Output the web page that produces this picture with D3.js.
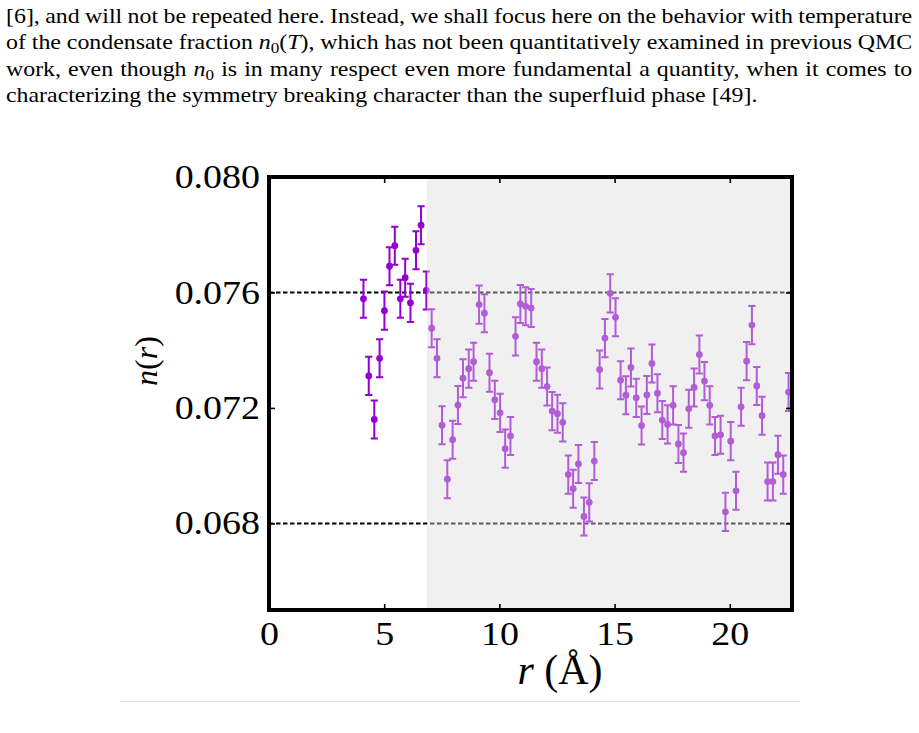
<!DOCTYPE html>
<html>
<head>
<meta charset="utf-8">
<script src="https://cdn.jsdelivr.net/npm/d3@7"></script>
<style>
  body { margin: 0; background: #fff; }
  svg { display: block; }
</style>
</head>
<body>
<div id="container"></div>
<script>
/* CONSTANTS AND GLOBALS */
const width = 919;
const height = 733;

// plot box in page pixels
const boxL = 269, boxR = 792, boxT = 177, boxB = 610;

/* DATA */
const r = [4.10, 4.33, 4.57, 4.80, 5.01, 5.23, 5.46, 5.70, 5.91, 6.14, 6.38, 6.60, 6.83,
  7.06, 7.29, 7.51, 7.74, 7.97, 8.20, 8.42, 8.67, 8.88, 9.12, 9.35, 9.57, 9.80,
  10.03, 10.25, 10.48, 10.70, 10.91, 11.14, 11.38, 11.61, 11.84, 12.07,
  12.29, 12.52, 12.75, 12.99, 13.20, 13.43, 13.67, 13.90, 14.12, 14.35,
  14.58, 14.81, 15.04, 15.26, 15.49, 15.71, 15.94, 16.17, 16.40, 16.62, 16.86,
  17.07, 17.30, 17.54, 17.77, 17.99, 18.22, 18.45, 18.68, 18.90, 19.13,
  19.36, 19.60, 19.81, 20.04, 20.27, 20.49, 20.73, 20.96, 21.17, 21.40,
  21.64, 21.87, 22.09, 22.32, 22.55];

const nr = [0.07578, 0.07311, 0.07160, 0.07372, 0.07537, 0.07691, 0.07762, 0.07578, 0.07651, 0.07564, 0.07746, 0.07833, 0.07607,
  0.07476, 0.07372, 0.07140, 0.06953, 0.07090, 0.07210, 0.07303, 0.07336, 0.07360, 0.07558, 0.07528, 0.07322, 0.07228,
  0.07183, 0.07059, 0.07103, 0.07448, 0.07560, 0.07552, 0.07546, 0.07360, 0.07336, 0.07274,
  0.07189, 0.07180, 0.07150, 0.06969, 0.06920, 0.07006, 0.06824, 0.06873, 0.07016, 0.07333,
  0.07442, 0.07597, 0.07514, 0.07296, 0.07244, 0.07340, 0.07235, 0.07139, 0.07245, 0.07354, 0.07251,
  0.07158, 0.07143, 0.07209, 0.07075, 0.07045, 0.07197, 0.07271, 0.07385, 0.07293, 0.07209,
  0.07103, 0.07107, 0.06840, 0.07085, 0.06913, 0.07204, 0.07362, 0.07487, 0.07276, 0.07173,
  0.06945, 0.06945, 0.07038, 0.06969, 0.07255];

const errBar = 0.00066;
const shadeFrom = 6.85;
const refLines = [0.076, 0.068];
const xTicks = [0, 5, 10, 15, 20];
const yTicks = [0.068, 0.072, 0.076, 0.080];

// paragraph above the figure, [text, style] pieces per line
const lines = [
  [["[6], and will not be repeated here. Instead, we shall focus here on the behavior with temperature", ""]],
  [["of the condensate fraction ", ""], ["n", "i"], ["0", "sub"], ["(", "up"], ["T", "i"], ["), which has not been quantitatively examined in previous QMC", ""]],
  [["work, even though ", ""], ["n", "i"], ["0", "sub"], [" is in many respect even more fundamental a quantity, when it comes to", "up"]],
  [["characterizing the symmetry breaking character than the superfluid phase [49].", ""]]
];

var data = r.map((d, i) => ({ r: d, n: nr[i] }));

/* CREATE SVG ELEMENT */
var svg = d3.select("#container")
  .append("svg")
  .attr("width", width)
  .attr("height", height);

/* PARAGRAPH */
const textX = 6, textRight = 913, lastRight = 758;
const baselines = [23, 49, 76, 102];
var rows = lines.map((segs, i) => {
  var t = svg.append("text")
    .attr("font-family", "Liberation Serif")
    .attr("font-size", 21)
    .attr("fill", "#000");
  segs.forEach(s => {
    var ts = t.append("tspan").text(s[0]);
    if (s[1] == "i") ts.attr("font-style", "italic");
    if (s[1] == "sub") ts.attr("font-size", 15).attr("dy", 4);
    if (s[1] == "up") ts.attr("dy", -4);
  });
  return t;
});
// glyph stretch taken from the last (ragged) line, the rest justified by word spacing
var lastW = rows[3].node().getComputedTextLength();
var sx = (lastRight - textX) / lastW;
rows.forEach((t, i) => {
  var w = t.node().getComputedTextLength();
  var spaces = t.text().split(" ").length - 1;
  if (i < 3) t.attr("word-spacing", ((textRight - textX) / sx - w) / spaces);
  t.attr("transform", "translate(" + textX + "," + baselines[i] + ") scale(" + sx + ",1)");
});

/* SCALES */
var x = d3.scaleLinear().domain([0, 22.7]).range([boxL, boxR]);
var y = d3.scaleLinear().domain([0.065, 0.080]).range([boxB, boxT]);

/* REFERENCE LINES */
svg.selectAll(".ref")
  .data(refLines)
  .join("line")
  .attr("x1", boxL).attr("x2", boxR)
  .attr("y1", d => y(d)).attr("y2", d => y(d))
  .attr("stroke", "#000")
  .attr("stroke-width", 2)
  .attr("stroke-dasharray", "4.5,2.5");

/* ERROR BARS + POINTS */
var col = "#9400d3";
var cap = 3.6;
var g = svg.append("g");
g.selectAll(".eb")
  .data(data)
  .join("path")
  .attr("fill", "none")
  .attr("stroke", col)
  .attr("stroke-width", 2)
  .attr("d", d => {
    var cx = x(d.r), y0 = y(d.n - errBar), y1 = y(d.n + errBar);
    return "M" + (cx - cap) + "," + y1 + "H" + (cx + cap) +
      "M" + cx + "," + y1 + "V" + y0 +
      "M" + (cx - cap) + "," + y0 + "H" + (cx + cap);
  });
g.selectAll("circle")
  .data(data)
  .join("circle")
  .attr("cx", d => x(d.r))
  .attr("cy", d => y(d.n))
  .attr("r", 3.4)
  .attr("fill", col);

/* GREY VEIL OVER THE OUTER REGION */
svg.append("rect")
  .attr("x", x(shadeFrom))
  .attr("y", boxT)
  .attr("width", boxR - x(shadeFrom))
  .attr("height", boxB - boxT)
  .attr("fill", "rgb(219,219,219)")
  .attr("fill-opacity", 0.42);

/* AXES */
function stretch(sel) {
  sel.selectAll("text").each(function() {
    var w = this.getComputedTextLength();
    d3.select(this).attr("textLength", w * 1.15).attr("lengthAdjust", "spacingAndGlyphs");
  });
}

var xb = svg.append("g")
  .attr("transform", "translate(0," + boxB + ")")
  .call(d3.axisBottom(x).tickValues(xTicks).tickSize(-6).tickPadding(12));
var xt = svg.append("g")
  .attr("transform", "translate(0," + boxT + ")")
  .call(d3.axisTop(x).tickValues(xTicks).tickSize(-6).tickFormat(""));
var yl = svg.append("g")
  .attr("transform", "translate(" + boxL + ",0)")
  .call(d3.axisLeft(y).tickValues(yTicks).tickSize(-6).tickPadding(9).tickFormat(d3.format(".3f")));
var yr = svg.append("g")
  .attr("transform", "translate(" + boxR + ",0)")
  .call(d3.axisRight(y).tickValues(yTicks).tickSize(-6).tickFormat(""));

[xb, xt, yl, yr].forEach(a => {
  a.select(".domain").remove();
  a.selectAll("line").attr("stroke", "#000").attr("stroke-width", 1.6);
  a.selectAll("text")
    .attr("font-family", "Liberation Serif")
    .attr("font-size", 33)
    .attr("fill", "#000");
});
stretch(xb);
stretch(yl);

// frame
svg.append("rect")
  .attr("x", boxL).attr("y", boxT)
  .attr("width", boxR - boxL).attr("height", boxB - boxT)
  .attr("fill", "none")
  .attr("stroke", "#000")
  .attr("stroke-width", 4);

/* AXIS TITLES */
var xl = svg.append("text")
  .attr("x", 560).attr("y", 684)
  .attr("text-anchor", "middle")
  .attr("font-family", "Liberation Serif")
  .attr("font-size", 42);
xl.append("tspan").attr("font-style", "italic").text("r");
xl.append("tspan").text(" (Å)");

var ylab = svg.append("text")
  .attr("transform", "translate(157,361) rotate(-90)")
  .attr("text-anchor", "middle")
  .attr("font-family", "Liberation Serif")
  .attr("font-size", 32);
ylab.append("tspan").attr("font-style", "italic").text("n");
ylab.append("tspan").text("(");
ylab.append("tspan").attr("font-style", "italic").text("r");
ylab.append("tspan").text(")");

// thin rule under the figure
svg.append("line")
  .attr("x1", 120).attr("x2", 800)
  .attr("y1", 701.5).attr("y2", 701.5)
  .attr("stroke", "#e2e2e2")
  .attr("stroke-width", 1);
</script>
</body>
</html>
